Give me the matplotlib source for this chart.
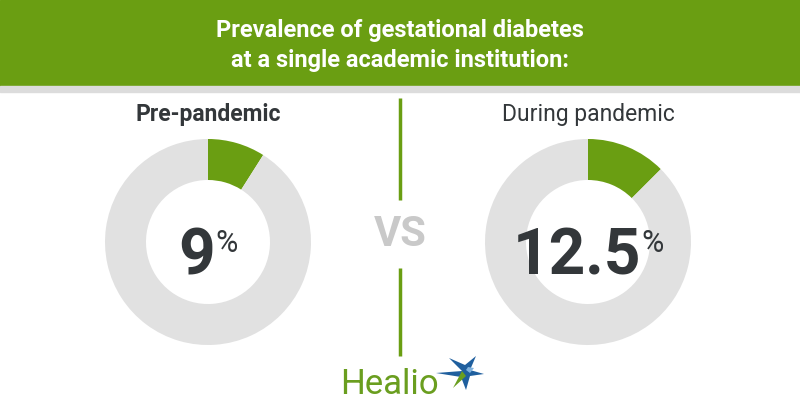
import matplotlib
matplotlib.use("Agg")
import matplotlib.pyplot as plt
from matplotlib.patches import Rectangle, Polygon

# Data
labels = ["Pre-pandemic", "During pandemic"]
shares = [9, 12.5]
value_text = ["9", "12.5"]
title_lines = ["Prevalence of gestational diabetes", "at a single academic institution:"]

GREEN = "#6a9e12"
RING = "#e1e1e1"
DARK = "#33373a"

plt.rcParams["font.family"] = ["Roboto", "DejaVu Sans"]

fig = plt.figure(figsize=(8, 4.2), dpi=100)
ax = fig.add_axes([0, 0, 1, 1])
ax.set_xlim(0, 800)
ax.set_ylim(0, 420)
ax.set_aspect("equal")
ax.axis("off")

# header band
ax.add_patch(Rectangle((0, 420 - 86), 800, 86, color=GREEN, zorder=1))
ax.add_patch(Rectangle((0, 420 - 92), 800, 6, color="#dcdcdc", zorder=1))
for i, line in enumerate(title_lines):
    ax.text(400, 420 - 30 - 30 * i, line, ha="center", va="center", color="white",
            fontsize=17, fontweight="bold")

# donuts
centers = [(208, 178), (588, 178)]
weights = ["bold", "normal"]
for (cx, cy), lab, val, txt, w in zip(centers, labels, shares, value_text, weights):
    ax.pie([val, 100 - val], colors=[GREEN, RING], startangle=90, counterclock=False,
           radius=103, center=(cx, cy), frame=True,
           wedgeprops=dict(width=41, linewidth=0))
    ax.text(cx, 420 - 115, lab, ha="center", va="center", fontsize=16.5,
            fontweight=w, color=DARK)
    t = ax.text(cx - 11, cy - 15, txt, ha="center", va="center", fontsize=46,
                fontweight="bold", color=DARK)
    # percent sign as superscript right of the number
    fig.canvas.draw()
    bb = t.get_window_extent().transformed(ax.transData.inverted())
    ax.text(bb.x1 + 0.5, cy - 1, "%", ha="left", va="center", fontsize=22,
            fontweight="normal", color=DARK)

# reset limits after pie
ax.set_xlim(0, 800)
ax.set_ylim(0, 420)
ax.axis("off")

# divider and VS
ax.plot([400, 400], [420 - 98, 420 - 200], color=GREEN, lw=2.5, solid_capstyle="butt")
ax.plot([400, 400], [420 - 268, 420 - 356], color=GREEN, lw=2.5, solid_capstyle="butt")
ax.text(400, 420 - 234, "VS", ha="center", va="center", fontsize=30,
        fontweight="bold", color="#c9c9c9")

# Healio logo
ax.text(389, 420 - 384, "Healio", ha="center", va="center", fontsize=25,
        color="#6a9e1f")
star_blue = [(462, 49), (449, 62), (465, 55), (476, 64), (470, 50), (484, 46),
             (470, 44), (466, 30), (461, 43), (436, 47)]
ax.add_patch(Polygon(star_blue, closed=True, color="#1f5f9e", lw=0, zorder=3))
ax.add_patch(Polygon([(462, 49), (453, 32), (466, 44)], closed=True,
                     color="#6a9e1f", lw=0, zorder=3))
ax.add_patch(Polygon([(466, 50), (470, 47), (474, 52), (468, 53)], closed=True,
                     color="#7fb2de", lw=0, zorder=4))

fig.savefig("out.png", dpi=100)
